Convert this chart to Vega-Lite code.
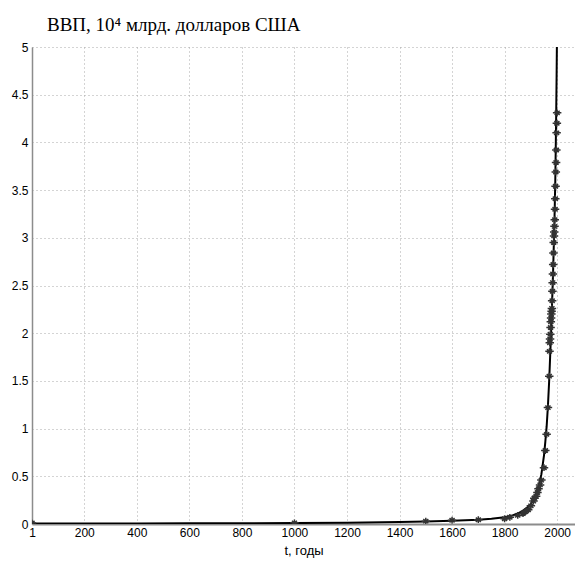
{
  "$schema": "https://vega.github.io/schema/vega-lite/v6.json",
  "autosize": {"type": "none"},
  "width": 543,
  "height": 477,
  "padding": {"left": 32, "top": 47, "right": 0, "bottom": 39},
  "background": "white",
  "title": {
    "text": "ВВП, 10⁴ млрд. долларов США",
    "anchor": "start",
    "frame": "group",
    "font": "Liberation Serif",
    "fontSize": 19,
    "fontWeight": "normal",
    "color": "black",
    "dx": 15,
    "dy": 26,
    "offset": 17,
    "baseline": "alphabetic"
  },
  "config": {
    "view": {"stroke": null},
    "axis": {
      "labelFont": "Liberation Sans",
      "labelFontSize": 12,
      "labelColor": "black",
      "titleFont": "Liberation Sans",
      "titleFontSize": 13,
      "titleFontWeight": "normal",
      "titleColor": "black",
      "ticks": false,
      "grid": true,
      "gridColor": "#a8a8a8",
      "gridDash": [1, 3],
      "gridWidth": 1,
      "domainColor": "#8c8c8c"
    }
  },
  "datasets": {
    "gdp": [
      {"year": 1, "gdp": 0.01},
      {"year": 1000, "gdp": 0.012},
      {"year": 1500, "gdp": 0.03},
      {"year": 1600, "gdp": 0.04},
      {"year": 1700, "gdp": 0.045},
      {"year": 1800, "gdp": 0.055},
      {"year": 1820, "gdp": 0.07},
      {"year": 1850, "gdp": 0.09},
      {"year": 1870, "gdp": 0.11},
      {"year": 1880, "gdp": 0.13},
      {"year": 1890, "gdp": 0.15},
      {"year": 1900, "gdp": 0.19},
      {"year": 1910, "gdp": 0.24},
      {"year": 1913, "gdp": 0.27},
      {"year": 1920, "gdp": 0.29},
      {"year": 1925, "gdp": 0.33},
      {"year": 1929, "gdp": 0.37},
      {"year": 1935, "gdp": 0.41},
      {"year": 1940, "gdp": 0.46},
      {"year": 1950, "gdp": 0.59},
      {"year": 1955, "gdp": 0.77},
      {"year": 1960, "gdp": 0.94},
      {"year": 1965, "gdp": 1.22},
      {"year": 1970, "gdp": 1.55},
      {"year": 1971, "gdp": 1.81},
      {"year": 1972, "gdp": 1.90},
      {"year": 1973, "gdp": 1.94},
      {"year": 1974, "gdp": 1.99},
      {"year": 1975, "gdp": 2.06},
      {"year": 1976, "gdp": 2.12},
      {"year": 1977, "gdp": 2.16},
      {"year": 1978, "gdp": 2.20},
      {"year": 1979, "gdp": 2.23},
      {"year": 1980, "gdp": 2.26},
      {"year": 1981, "gdp": 2.34},
      {"year": 1982, "gdp": 2.44},
      {"year": 1983, "gdp": 2.53},
      {"year": 1984, "gdp": 2.62},
      {"year": 1985, "gdp": 2.72},
      {"year": 1986, "gdp": 2.84},
      {"year": 1987, "gdp": 2.95},
      {"year": 1988, "gdp": 3.02},
      {"year": 1989, "gdp": 3.06},
      {"year": 1990, "gdp": 3.12},
      {"year": 1991, "gdp": 3.19},
      {"year": 1992, "gdp": 3.30},
      {"year": 1993, "gdp": 3.41},
      {"year": 1994, "gdp": 3.54},
      {"year": 1995, "gdp": 3.69},
      {"year": 1996, "gdp": 3.79},
      {"year": 1997, "gdp": 3.92},
      {"year": 1998, "gdp": 4.10},
      {"year": 1999, "gdp": 4.20},
      {"year": 2000, "gdp": 4.31}
    ],
    "fit": [
      {"year": 1, "gdp": 0.004},
      {"year": 200, "gdp": 0.005},
      {"year": 400, "gdp": 0.006},
      {"year": 600, "gdp": 0.007},
      {"year": 800, "gdp": 0.008},
      {"year": 1000, "gdp": 0.01},
      {"year": 1200, "gdp": 0.014},
      {"year": 1400, "gdp": 0.02},
      {"year": 1500, "gdp": 0.025},
      {"year": 1600, "gdp": 0.033},
      {"year": 1700, "gdp": 0.045},
      {"year": 1750, "gdp": 0.055},
      {"year": 1800, "gdp": 0.07},
      {"year": 1830, "gdp": 0.09},
      {"year": 1850, "gdp": 0.11},
      {"year": 1870, "gdp": 0.14},
      {"year": 1890, "gdp": 0.18},
      {"year": 1900, "gdp": 0.21},
      {"year": 1910, "gdp": 0.26},
      {"year": 1920, "gdp": 0.32},
      {"year": 1930, "gdp": 0.40},
      {"year": 1940, "gdp": 0.52},
      {"year": 1950, "gdp": 0.72},
      {"year": 1955, "gdp": 0.86},
      {"year": 1960, "gdp": 1.02},
      {"year": 1965, "gdp": 1.24},
      {"year": 1970, "gdp": 1.52},
      {"year": 1975, "gdp": 1.87},
      {"year": 1980, "gdp": 2.25},
      {"year": 1985, "gdp": 2.68},
      {"year": 1990, "gdp": 3.2},
      {"year": 1993, "gdp": 3.6},
      {"year": 1996, "gdp": 4.2},
      {"year": 1998, "gdp": 4.7},
      {"year": 2000, "gdp": 5.3},
      {"year": 2001, "gdp": 5.6}
    ]
  },
  "encoding": {
    "x": {
      "field": "year",
      "type": "quantitative",
      "scale": {"domain": [1, 2068], "nice": false, "zero": false},
      "axis": {
        "title": "t, годы",
        "values": [1, 200, 400, 600, 800, 1000, 1200, 1400, 1600, 1800, 2000],
        "format": "d",
        "labelPadding": 3,
        "titlePadding": 6,
        "domainWidth": 2,
        "labelFlush": false,
        "labelOverlap": false
      }
    },
    "y": {
      "field": "gdp",
      "type": "quantitative",
      "scale": {"domain": [0, 5], "nice": false},
      "axis": {
        "title": null,
        "values": [0, 0.5, 1, 1.5, 2, 2.5, 3, 3.5, 4, 4.5, 5],
        "format": "~g",
        "labelPadding": 4,
        "domainWidth": 1.5,
        "labelOverlap": false
      }
    }
  },
  "layer": [
    {
      "data": {"name": "fit"},
      "mark": {"type": "line", "color": "black", "strokeWidth": 2, "clip": true}
    },
    {
      "data": {"name": "gdp"},
      "mark": {
        "type": "point",
        "shape": "M-1,0L1,0M0,-0.8L0,0.8M-0.6,-0.5L0.6,0.5M-0.6,0.5L0.6,-0.5",
        "size": 72,
        "filled": false,
        "stroke": "#333333",
        "strokeWidth": 1.5,
        "opacity": 1,
        "clip": true
      }
    }
  ]
}
